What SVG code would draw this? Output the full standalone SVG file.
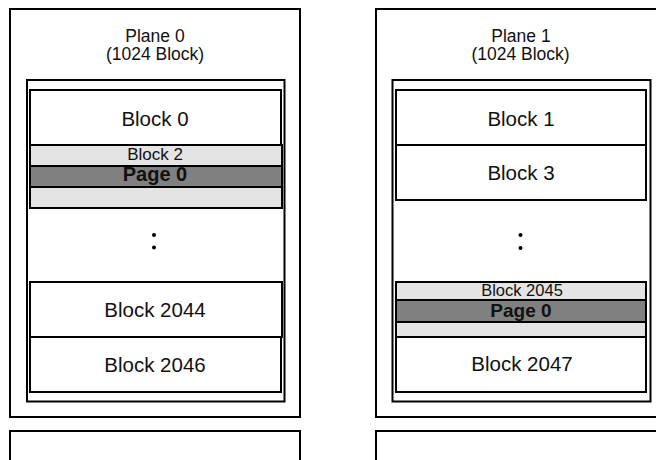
<svg xmlns="http://www.w3.org/2000/svg" width="656" height="460" viewBox="0 0 656 460">
<style>
.box{fill:#fff;stroke:#000;stroke-width:2}
.lt{fill:#e4e4e4;stroke:#000;stroke-width:2}
.dk{fill:#808080;stroke:#000;stroke-width:2}
text{font-family:"Liberation Sans",Arial,sans-serif;fill:#111;text-anchor:middle}
.pl{font-size:17.5px}
.bl{font-size:20.5px}
.sm{font-size:17px}
.s2{font-size:16.5px}
.pg{font-size:20px;font-weight:bold}
.pg2{font-size:19px;font-weight:bold}
</style>
<rect width="656" height="460" fill="#fff"/>
<g id="plane0">
<rect class="box" x="10" y="9" width="290" height="408"/>
<text class="pl" x="155" y="41.5">Plane 0</text>
<text class="pl" x="155" y="60">(1024 Block)</text>
<rect class="box" x="27" y="80" width="257.5" height="321.5"/>
</g>
<g id="block0">
<rect class="box" x="30" y="90" width="251" height="55"/>
<text class="bl" x="155" y="126">Block 0</text>
</g>
<g id="block2">
<rect class="lt" x="30" y="145" width="252" height="63"/>
<rect class="dk" x="30" y="166" width="252" height="21"/>
<text class="sm" x="155" y="160">Block 2</text>
<text class="pg" x="155" y="180.5">Page 0</text>
</g>
<g id="dots0">
<circle cx="154" cy="235" r="2" fill="#000"/>
<circle cx="154" cy="247.5" r="2" fill="#000"/>
</g>
<g id="block2044">
<rect class="box" x="30" y="282" width="252" height="55"/>
<text class="bl" x="155" y="317">Block 2044</text>
</g>
<g id="block2046">
<rect class="box" x="30" y="337" width="251" height="55"/>
<text class="bl" x="155" y="372">Block 2046</text>
</g>
<g id="plane1">
<rect class="box" x="376" y="9" width="290" height="408"/>
<text class="pl" x="521" y="41.5">Plane 1</text>
<text class="pl" x="520.5" y="60">(1024 Block)</text>
<rect class="box" x="392.5" y="80" width="258" height="321.5"/>
</g>
<g id="block1">
<rect class="box" x="396" y="90" width="250" height="55"/>
<text class="bl" x="521" y="126">Block 1</text>
</g>
<g id="block3">
<rect class="box" x="396" y="145" width="250" height="55"/>
<text class="bl" x="521" y="180">Block 3</text>
</g>
<g id="dots1">
<circle cx="520.5" cy="235" r="2" fill="#000"/>
<circle cx="520.5" cy="248" r="2" fill="#000"/>
</g>
<g id="block2045">
<rect class="lt" x="396" y="282" width="250" height="55"/>
<rect class="dk" x="396" y="300" width="250" height="22"/>
<text class="s2" x="522" y="296">Block 2045</text>
<text class="pg2" x="521" y="317">Page 0</text>
</g>
<g id="block2047">
<rect class="box" x="396" y="337" width="250" height="55"/>
<text class="bl" x="522" y="371">Block 2047</text>
</g>
<g id="plane2">
<rect class="box" x="10" y="431" width="290" height="40"/>
</g>
<g id="plane3">
<rect class="box" x="376" y="431" width="290" height="40"/>
</g>
<g id="connectors"></g>
</svg>
